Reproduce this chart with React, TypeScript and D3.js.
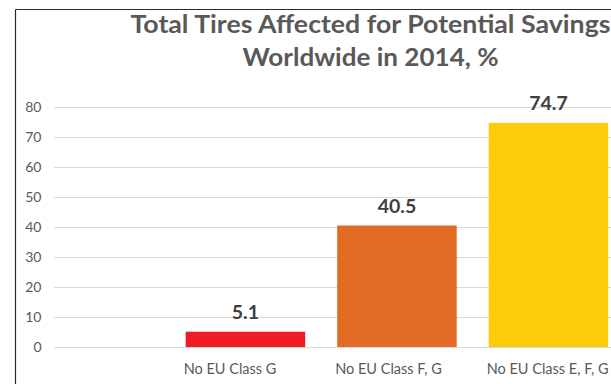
import React from "react";
import * as d3 from "d3";

// Chart data
const categories = ["No EU Class G", "No EU Class F, G", "No EU Class E, F, G"];
const values = [5.1, 40.5, 74.7];
const barColors = ["#ee1c25", "#e36c24", "#fdcb0a"];
const yTicks = [0, 10, 20, 30, 40, 50, 60, 70, 80];
const titleLines = ["Total Tires Affected for Potential Savings", "Worldwide in 2014, %"];
const titleWidths = [480, 256];

const W = 611;
const H = 384;
const FONT = "Lato, 'Open Sans', sans-serif";

export default function App() {
  const y = d3.scaleLinear().domain([0, 80]).range([347, 107]);
  const x = d3
    .scaleBand<string>()
    .domain(categories)
    .range([169.7, 624.2])
    .paddingInner(0.211)
    .paddingOuter(0.1055);

  return (
    <div style={{ position: "absolute", left: 0, top: 0 }}>
      <svg width={W} height={H} style={{ display: "block", background: "#fff" }}>
        {/* chart frame */}
        <line x1={15.5} y1={9.5} x2={W} y2={9.5} stroke="#2b2b2b" strokeWidth={1.2} />
        <line x1={15.5} y1={9.5} x2={15.5} y2={H} stroke="#2b2b2b" strokeWidth={1.2} />

        {/* title */}
        {titleLines.map((t, i) => (
          <text
            key={t}
            x={370.5}
            y={32.8 + i * 33.3}
            textAnchor="middle"
            fontFamily={FONT}
            fontWeight={700}
            fontSize={24.5}
            fill="#595959"
            textLength={titleWidths[i]}
            lengthAdjust="spacingAndGlyphs"
          >
            {t}
          </text>
        ))}

        {/* gridlines and y tick labels */}
        {yTicks.map((t) => (
          <g key={t}>
            <line x1={54} x2={W} y1={Math.round(y(t)) + 0.5} y2={Math.round(y(t)) + 0.5} stroke="#d9d9d9" strokeWidth={1} />
            <text
              x={41.5}
              y={y(t)}
              dy="0.35em"
              textAnchor="end"
              fontFamily={FONT}
              fontSize={14}
              fill="#595959"
            >
              {t}
            </text>
          </g>
        ))}

        {/* bars */}
        {categories.map((c, i) => (
          <rect
            key={c}
            x={x(c)}
            y={y(values[i])}
            width={x.bandwidth()}
            height={y(0) - y(values[i])}
            fill={barColors[i]}
          />
        ))}

        {/* value labels */}
        {categories.map((c, i) => (
          <text
            key={c}
            x={(x(c) as number) + x.bandwidth() / 2}
            y={y(values[i]) - 12.6}
            textAnchor="middle"
            fontFamily={FONT}
            fontWeight={700}
            fontSize={19.5}
            fill="#404040"
          >
            {values[i].toFixed(1)}
          </text>
        ))}

        {/* category labels */}
        {categories.map((c) => (
          <text
            key={c}
            x={(x(c) as number) - 2}
            y={374}
            textAnchor="start"
            fontFamily={FONT}
            fontSize={14.5}
            fill="#595959"
          >
            {c}
          </text>
        ))}
      </svg>
    </div>
  );
}
